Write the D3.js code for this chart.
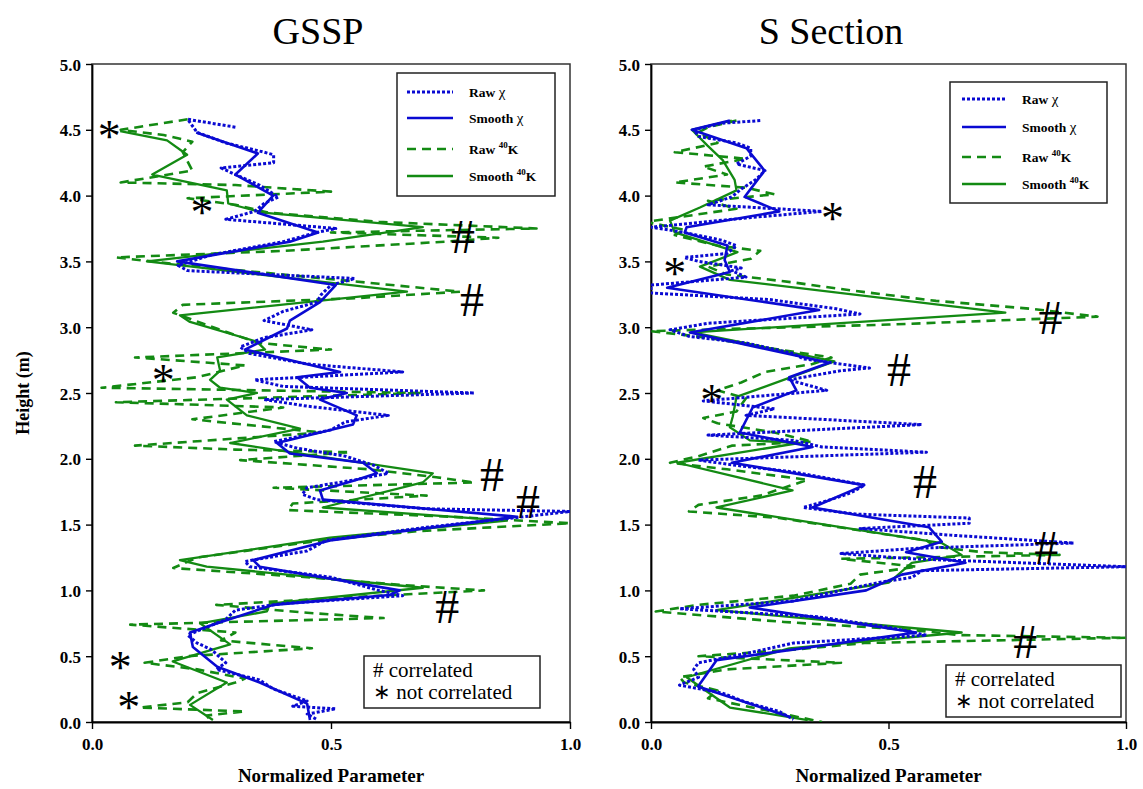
<!DOCTYPE html>
<html><head><meta charset="utf-8">
<script src="https://cdn.jsdelivr.net/npm/d3@7"></script>
<style>body{margin:0;background:#fff}svg{display:block}</style>
</head><body>
<svg id="c" width="1143" height="789"></svg>
<script>
// ---- data: [height (m), normalized value] ----
const panels = ["GSSP", "S Section"];
const legendLabels = ["Raw χ", "Smooth χ", "Raw 40K", "Smooth 40K"];
const xTicks = [0, 0.5, 1.0];
const yTicks = [0, 0.5, 1.0, 1.5, 2.0, 2.5, 3.0, 3.5, 4.0, 4.5, 5.0];

const rawChiL = [[4.52,0.30],[4.58,0.20],[4.48,0.22],[4.40,0.28],[4.33,0.36],[4.31,0.38],[4.25,0.38],[4.21,0.27],[4.16,0.30],[4.08,0.35],[3.99,0.39],[3.94,0.36],[3.88,0.34],[3.82,0.28],[3.75,0.51],[3.72,0.47],[3.65,0.40],[3.55,0.25],[3.47,0.18],[3.43,0.20],[3.37,0.55],[3.32,0.50],[3.25,0.48],[3.19,0.47],[3.12,0.40],[3.05,0.36],[2.98,0.46],[2.92,0.36],[2.85,0.31],[2.80,0.33],[2.72,0.45],[2.66,0.65],[2.60,0.34],[2.55,0.40],[2.50,0.80],[2.45,0.36],[2.40,0.45],[2.33,0.62],[2.28,0.53],[2.22,0.50],[2.13,0.38],[2.08,0.43],[2.02,0.53],[1.95,0.59],[1.89,0.62],[1.84,0.55],[1.78,0.45],[1.73,0.44],[1.69,0.47],[1.62,0.70],[1.60,1.0],[1.55,0.88],[1.48,0.70],[1.38,0.49],[1.30,0.45],[1.22,0.32],[1.18,0.33],[1.10,0.50],[1.00,0.60],[0.96,0.65],[0.90,0.40],[0.85,0.30],[0.78,0.28],[0.72,0.24],[0.66,0.20],[0.60,0.22],[0.55,0.25],[0.45,0.28],[0.40,0.26],[0.32,0.35],[0.25,0.38],[0.16,0.45],[0.12,0.42],[0.10,0.51],[0.06,0.45],[0.02,0.47]];
const smoothChiL = [[4.48,0.218],[4.32,0.347],[4.16,0.30],[4.0,0.379],[3.87,0.347],[3.72,0.473],[3.65,0.414],[3.50,0.178],[3.32,0.51],[3.19,0.477],[3.05,0.414],[2.99,0.408],[2.83,0.32],[2.66,0.519],[2.62,0.429],[2.54,0.456],[2.50,0.533],[2.45,0.477],[2.33,0.554],[2.26,0.546],[2.12,0.387],[2.04,0.414],[1.97,0.567],[1.89,0.596],[1.84,0.554],[1.76,0.477],[1.69,0.483],[1.56,0.889],[1.38,0.498],[1.23,0.337],[1.18,0.351],[1.00,0.644],[0.965,0.623],[0.89,0.379],[0.75,0.262],[0.68,0.205],[0.57,0.211],[0.42,0.262],[0.30,0.351],[0.14,0.45],[0.015,0.456]];
const rawKL = [[4.58,0.20],[4.50,0.06],[4.46,0.15],[4.41,0.21],[4.33,0.19],[4.19,0.21],[4.10,0.06],[4.08,0.30],[4.03,0.50],[3.98,0.20],[3.93,0.30],[3.87,0.37],[3.80,0.60],[3.75,0.93],[3.72,0.50],[3.68,0.85],[3.65,0.74],[3.58,0.40],[3.53,0.05],[3.47,0.20],[3.40,0.40],[3.33,0.60],[3.27,0.77],[3.22,0.55],[3.17,0.19],[3.11,0.17],[3.03,0.23],[2.94,0.30],[2.88,0.35],[2.83,0.50],[2.77,0.09],[2.71,0.32],[2.62,0.22],[2.54,0.02],[2.50,0.69],[2.43,0.05],[2.39,0.40],[2.30,0.21],[2.20,0.48],[2.10,0.09],[2.07,0.30],[2.05,0.54],[1.99,0.31],[1.92,0.58],[1.86,0.72],[1.82,0.80],[1.78,0.38],[1.72,0.70],[1.66,0.42],[1.61,0.41],[1.56,0.75],[1.51,1.0],[1.45,0.68],[1.38,0.48],[1.25,0.22],[1.17,0.17],[1.10,0.45],[1.04,0.65],[1.00,0.82],[0.95,0.55],[0.89,0.26],[0.83,0.45],[0.79,0.61],[0.74,0.08],[0.68,0.30],[0.62,0.27],[0.56,0.46],[0.50,0.20],[0.45,0.11],[0.40,0.22],[0.33,0.32],[0.30,0.30],[0.22,0.22],[0.15,0.20],[0.11,0.10],[0.08,0.32],[0.05,0.24],[0.0,0.25]];
const smoothKL = [[4.49,0.059],[4.42,0.157],[4.31,0.199],[4.16,0.126],[4.04,0.282],[3.94,0.285],[3.87,0.358],[3.76,0.692],[3.65,0.483],[3.50,0.115],[3.27,0.659],[3.09,0.184],[3.04,0.205],[2.89,0.345],[2.83,0.362],[2.77,0.262],[2.67,0.268],[2.60,0.247],[2.54,0.268],[2.50,0.345],[2.45,0.282],[2.33,0.324],[2.23,0.435],[2.12,0.289],[1.89,0.713],[1.82,0.692],[1.63,0.483],[1.53,0.868],[1.40,0.498],[1.23,0.184],[1.18,0.24],[1.02,0.692],[0.90,0.372],[0.84,0.366],[0.75,0.226],[0.59,0.289],[0.46,0.169],[0.30,0.282],[0.13,0.205],[0.015,0.253]];

const rawChiR = [[4.57,0.23],[4.55,0.15],[4.50,0.09],[4.45,0.10],[4.40,0.18],[4.36,0.21],[4.30,0.21],[4.24,0.18],[4.19,0.24],[4.12,0.22],[4.05,0.19],[3.99,0.17],[3.93,0.12],[3.88,0.36],[3.83,0.20],[3.76,0.00],[3.72,0.07],[3.66,0.15],[3.62,0.18],[3.56,0.16],[3.53,0.07],[3.50,0.10],[3.45,0.19],[3.43,0.17],[3.38,0.20],[3.32,0.00],[3.26,0.00],[3.21,0.25],[3.14,0.39],[3.10,0.44],[3.03,0.12],[2.98,0.04],[2.93,0.08],[2.88,0.20],[2.80,0.30],[2.76,0.32],[2.69,0.46],[2.67,0.40],[2.60,0.29],[2.52,0.37],[2.44,0.11],[2.38,0.26],[2.33,0.20],[2.26,0.57],[2.18,0.12],[2.14,0.30],[2.09,0.36],[2.05,0.58],[1.99,0.10],[1.95,0.18],[1.90,0.30],[1.80,0.45],[1.74,0.42],[1.68,0.37],[1.63,0.32],[1.58,0.43],[1.55,0.67],[1.51,0.67],[1.47,0.44],[1.42,0.63],[1.36,0.89],[1.32,0.56],[1.28,0.40],[1.24,0.55],[1.18,1.0],[1.15,0.57],[1.10,0.55],[1.06,0.48],[1.00,0.40],[0.92,0.30],[0.86,0.06],[0.80,0.35],[0.72,0.50],[0.66,0.58],[0.60,0.30],[0.52,0.20],[0.45,0.10],[0.40,0.09],[0.34,0.10],[0.28,0.06],[0.22,0.15],[0.15,0.20],[0.08,0.27],[0.02,0.30]];
const smoothChiR = [[4.57,0.166],[4.50,0.086],[4.36,0.201],[4.19,0.239],[3.99,0.197],[3.88,0.27],[3.76,0.075],[3.72,0.071],[3.62,0.161],[3.51,0.155],[3.42,0.166],[3.30,0.034],[3.13,0.354],[2.96,0.082],[2.73,0.375],[2.62,0.291],[2.52,0.306],[2.39,0.214],[2.20,0.187],[2.09,0.34],[1.97,0.17],[1.80,0.449],[1.63,0.34],[1.48,0.585],[1.37,0.612],[1.29,0.537],[1.21,0.662],[1.12,0.528],[1.00,0.453],[0.87,0.208],[0.68,0.558],[0.47,0.138],[0.27,0.099],[0.04,0.291]];
const rawKR = [[4.57,0.18],[4.52,0.12],[4.48,0.10],[4.40,0.14],[4.33,0.05],[4.28,0.20],[4.22,0.11],[4.16,0.16],[4.10,0.05],[4.06,0.20],[4.01,0.26],[3.96,0.12],[3.90,0.18],[3.80,-0.01],[3.74,0.07],[3.70,0.05],[3.62,0.14],[3.58,0.23],[3.52,0.21],[3.46,0.12],[3.40,0.16],[3.34,0.30],[3.28,0.42],[3.20,0.60],[3.14,0.80],[3.08,0.94],[3.02,0.50],[2.97,0.00],[2.92,0.12],[2.84,0.25],[2.77,0.38],[2.72,0.34],[2.66,0.24],[2.58,0.19],[2.52,0.14],[2.46,0.20],[2.36,0.18],[2.31,0.11],[2.27,0.14],[2.20,0.26],[2.13,0.34],[2.10,0.17],[2.02,0.10],[1.97,0.04],[1.92,0.16],[1.84,0.33],[1.72,0.23],[1.65,0.10],[1.60,0.08],[1.55,0.27],[1.45,0.45],[1.38,0.58],[1.33,0.60],[1.29,0.70],[1.27,0.86],[1.24,0.40],[1.18,0.56],[1.12,0.44],[1.05,0.42],[0.96,0.30],[0.89,0.10],[0.84,0.01],[0.76,0.28],[0.70,0.55],[0.66,0.65],[0.64,1.0],[0.60,0.45],[0.55,0.30],[0.50,0.10],[0.45,0.40],[0.40,0.16],[0.34,0.06],[0.30,0.07],[0.24,0.14],[0.18,0.12],[0.12,0.20],[0.06,0.28],[0.00,0.36]];
const smoothKR = [[4.57,0.17],[4.50,0.086],[4.38,0.119],[4.27,0.151],[4.12,0.176],[4.04,0.18],[3.91,0.103],[3.81,0.04],[3.72,0.05],[3.57,0.182],[3.46,0.103],[3.36,0.166],[3.11,0.746],[2.96,0.088],[2.74,0.386],[2.47,0.18],[2.32,0.172],[2.24,0.166],[2.14,0.208],[2.12,0.312],[1.97,0.055],[1.76,0.298],[1.63,0.138],[1.36,0.612],[1.27,0.654],[1.21,0.549],[1.06,0.501],[0.85,0.138],[0.68,0.654],[0.56,0.291],[0.34,0.075],[0.11,0.166],[0.015,0.33]];

// markers: [symbol, x, height]
const marksL = [["*",0.036,4.49],["*",0.230,3.91],["*",0.149,2.64],["*",0.059,0.456],["*",0.077,0.152],
  ["#",0.776,3.685],["#",0.795,3.207],["#",0.837,1.877],["#",0.912,1.672],["#",0.743,0.874]];
const marksR = [["*",0.382,3.868],["*",0.050,3.45],["*",0.128,2.485],
  ["#",0.841,3.07],["#",0.522,2.675],["#",0.577,1.824],["#",0.832,1.322],["#",0.788,0.608]];

// ---- drawing ----
const svg = d3.select("#c");
const BLUE = "#0a0ad2", GREEN = "#138a13";
const styles = [
  {color: BLUE, w: 3, dash: "3,2"},
  {color: BLUE, w: 2.6, dash: null},
  {color: GREEN, w: 2.6, dash: "9,6"},
  {color: GREEN, w: 2.3, dash: null}
];
const cfg = [
  {x0: 92, x1: 570, title: "GSSP", tx: 318, series: [rawChiL, smoothChiL, rawKL, smoothKL], marks: marksL,
   leg: {x: 397, y: 73, w: 158, h: 123, lx0: 407, lx1: 453, tx: 469, rows: [92, 118, 149, 176]},
   note: {x: 364, y: 656, w: 176, h: 52}, ylabel: true},
  {x0: 651, x1: 1126, title: "S Section", tx: 831, series: [rawChiR, smoothChiR, rawKR, smoothKR], marks: marksR,
   leg: {x: 950, y: 82, w: 157, h: 121, lx0: 962, lx1: 1006, tx: 1022, rows: [99, 127, 157, 184]},
   note: {x: 946, y: 665, w: 175, h: 52}, ylabel: false}
];
const yTop = 64, yBot = 722;

cfg.forEach((p, i) => {
  const x = d3.scaleLinear().domain([0, 1]).range([p.x0, p.x1]);
  const y = d3.scaleLinear().domain([0, 5]).range([yBot, yTop]);
  const g = svg.append("g");
  const cid = "clip" + i;
  svg.append("clipPath").attr("id", cid).append("rect")
    .attr("x", p.x0).attr("y", yTop).attr("width", p.x1 - p.x0).attr("height", yBot - yTop);

  g.append("rect").attr("x", p.x0).attr("y", yTop).attr("width", p.x1 - p.x0).attr("height", yBot - yTop)
    .attr("fill", "none").attr("stroke", "#333").attr("stroke-width", 1.5);

  const xa = g.append("g").attr("transform", `translate(0,${yBot})`)
    .call(d3.axisBottom(x).tickValues(xTicks).tickFormat(d3.format(".1f")).tickSize(7).tickSizeOuter(0));
  const ya = g.append("g").attr("transform", `translate(${p.x0},0)`)
    .call(d3.axisLeft(y).tickValues(yTicks).tickFormat(d3.format(".1f")).tickSize(6).tickSizeOuter(0));
  [xa, ya].forEach(a => {
    a.attr("font-family", null);
    a.select(".domain").attr("stroke", "#000").attr("stroke-width", 1.8);
    a.selectAll(".tick line").attr("stroke", "#000").attr("stroke-width", 1.4);
    a.selectAll("text").style("font-weight", "bold").style("font-size", "17px").attr("fill", "#000");
  });
  xa.selectAll("text").attr("dy", "1.05em");
  ya.selectAll("text").attr("x", -11).attr("dy", "0.36em");

  g.append("text").attr("x", p.tx).attr("y", 44).attr("text-anchor", "middle")
    .style("font-size", "38px").text(p.title);
  g.append("text").attr("x", (p.x0 + p.x1) / 2).attr("y", 782).attr("text-anchor", "middle")
    .style("font-weight", "bold").style("font-size", "19px").text("Normalized Parameter");
  if (p.ylabel) {
    g.append("text").attr("transform", `translate(29,393) rotate(-90)`).attr("text-anchor", "middle")
      .style("font-weight", "bold").style("font-size", "18px").text("Height (m)");
  }

  const line = d3.line().x(d => x(d[1])).y(d => y(d[0]));
  const order = [2, 3, 0, 1];
  const sg = g.append("g").attr("clip-path", `url(#${cid})`);
  order.forEach(k => {
    const s = styles[k];
    sg.append("path").datum(p.series[k]).attr("d", line).attr("fill", "none")
      .attr("stroke", s.color).attr("stroke-width", s.w)
      .attr("stroke-dasharray", s.dash).attr("stroke-linejoin", "round");
  });

  g.selectAll(".mk").data(p.marks).enter().append("text")
    .attr("x", d => x(d[1])).attr("y", d => y(d[2]) + (d[0] === "*" ? 21 : 16))
    .attr("text-anchor", "middle").style("font-size", d => d[0] === "*" ? "46px" : "48px")
    .text(d => d[0]);

  const L = p.leg;
  g.append("rect").attr("x", L.x).attr("y", L.y).attr("width", L.w).attr("height", L.h)
    .attr("fill", "#fff").attr("stroke", "#222").attr("stroke-width", 1.5);
  legendLabels.forEach((lab, k) => {
    const s = styles[k];
    g.append("line").attr("x1", L.lx0).attr("x2", L.lx1).attr("y1", L.rows[k]).attr("y2", L.rows[k])
      .attr("stroke", s.color).attr("stroke-width", s.w).attr("stroke-dasharray", s.dash);
    const t = g.append("text").attr("x", L.tx).attr("y", L.rows[k] + 5)
      .style("font-weight", "bold").style("font-size", "13.5px");
    if (lab.includes("40K")) {
      t.append("tspan").text(lab.replace("40K", ""));
      t.append("tspan").style("font-size", "9px").attr("dy", -6).text("40");
      t.append("tspan").attr("dy", 6).text("K");
    } else {
      t.append("tspan").text(lab.replace("χ", ""));
      t.append("tspan").style("font-weight", "normal").style("font-size", "15px").text("χ");
    }
  });

  const N = p.note;
  g.append("rect").attr("x", N.x).attr("y", N.y).attr("width", N.w).attr("height", N.h)
    .attr("fill", "#fff").attr("stroke", "#222").attr("stroke-width", 1.5);
  g.append("text").attr("x", N.x + 9).attr("y", N.y + 21).style("font-size", "21px").text("# correlated");
  g.append("text").attr("x", N.x + 9).attr("y", N.y + 43).style("font-size", "21px").text("∗ not correlated");
});
svg.selectAll("text").style("font-family", '"Liberation Serif", serif');
</script>
</body></html>
